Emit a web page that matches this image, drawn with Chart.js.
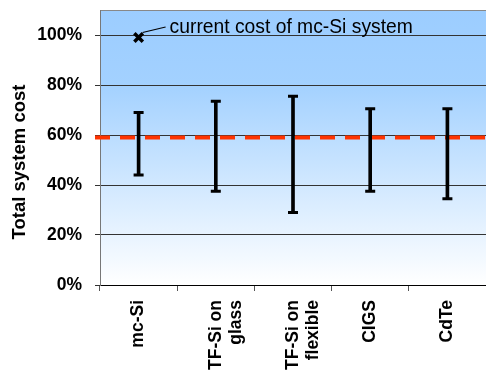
<!DOCTYPE html>
<html>
<head>
<meta charset="utf-8">
<script src="https://cdn.jsdelivr.net/npm/chart.js@4.4.0/dist/chart.umd.min.js"></script>
<style>
html, body { margin: 0; padding: 0; background: #fff; }
#wrap { width: 486px; height: 379px; }
</style>
</head>
<body>
<div id="wrap"><canvas id="costChart" width="486" height="379"></canvas></div>
<script>
// data (% of current mc-Si system cost)
const technologies = ['mc-Si', ['TF-Si on', 'glass'], ['TF-Si on', 'flexible'], 'CIGS', 'CdTe'];
const costLow = [44, 37.5, 29, 37.5, 34.5];
const costHigh = [69, 73.5, 75.5, 70.5, 70.5];
const currentCost = [99, null, null, null, null];
const averageCost = 59;
const yTicks = [0, 20, 40, 60, 80, 100];
const yTitle = 'Total system cost';
const noteText = 'current cost of mc-Si system';

const FONT = '"Liberation Sans", Arial, sans-serif';

const decorations = {
    id: 'decorations',
    beforeDraw(chart) {
        const { ctx, chartArea: a } = chart;
        const g = ctx.createLinearGradient(0, a.top, 0, a.bottom);
        g.addColorStop(0, '#9ccdff');
        g.addColorStop(0.27, '#a3d1ff');
        g.addColorStop(1, '#ffffff');
        ctx.save();
        ctx.fillStyle = g;
        ctx.fillRect(a.left, a.top, a.right - a.left, a.bottom - a.top);
        ctx.strokeStyle = '#888';
        ctx.lineWidth = 1;
        ctx.beginPath();
        ctx.moveTo(a.left, a.top + 0.5);
        ctx.lineTo(a.right, a.top + 0.5);
        ctx.stroke();
        ctx.restore();
    },
    beforeDatasetsDraw(chart) {
        const { ctx, chartArea: a, scales } = chart;
        const y = scales.y.getPixelForValue(averageCost);
        ctx.save();
        ctx.strokeStyle = '#ff3300';
        ctx.lineWidth = 4;
        ctx.setLineDash([15, 10]);
        ctx.beginPath();
        ctx.moveTo(a.left - 5, y);
        ctx.lineTo(a.right, y);
        ctx.stroke();
        ctx.restore();
    },
    afterDatasetsDraw(chart) {
        const { ctx, scales } = chart;
        ctx.save();
        ctx.fillStyle = '#000';
        technologies.forEach((t, i) => {
            const x = scales.x.getPixelForValue(i);
            [costLow[i], costHigh[i]].forEach(v => {
                const y = scales.y.getPixelForValue(v);
                ctx.fillRect(x - 5, y - 1.5, 10, 3);
            });
        });
        // note next to the current-cost marker
        const mx = scales.x.getPixelForValue(0) - 4;
        const my = scales.y.getPixelForValue(currentCost[0]);
        ctx.strokeStyle = '#000';
        ctx.lineWidth = 1.2;
        ctx.beginPath();
        ctx.moveTo(mx + 8, my - 5);
        ctx.lineTo(mx + 31, my - 10.5);
        ctx.stroke();
        ctx.font = '19.3px ' + FONT;
        ctx.textBaseline = 'middle';
        ctx.fillText(noteText, mx + 35, my - 10);
        ctx.restore();
    },
    afterDraw(chart) {
        const { ctx } = chart;
        ctx.save();
        ctx.translate(20, 162);
        ctx.rotate(-Math.PI / 2);
        ctx.font = 'bold 18.5px ' + FONT;
        ctx.textAlign = 'center';
        ctx.textBaseline = 'middle';
        ctx.fillStyle = '#000';
        ctx.fillText(yTitle, 0, 0);
        ctx.restore();
    }
};

new Chart(document.getElementById('costChart'), {
    data: {
        labels: technologies,
        datasets: [
            {
                type: 'bar',
                data: costLow.map((lo, i) => [lo, costHigh[i]]),
                backgroundColor: '#000',
                barThickness: 3,
                order: 2
            },
            {
                type: 'line',
                data: currentCost,
                showLine: false,
                pointStyle: 'crossRot',
                pointRadius: 6,
                borderColor: '#000',
                borderWidth: 3.5,
                order: 1
            }
        ]
    },
    options: {
        responsive: false,
        animation: false,
        layout: { autoPadding: false, padding: { top: 10, right: 0, left: 0, bottom: 0 } },
        plugins: { legend: { display: false }, tooltip: { enabled: false } },
        scales: {
            x: {
                offset: true,
                grid: { offset: true, drawOnChartArea: false, tickLength: 6, color: '#555' },
                border: { color: '#000', width: 1 },
                ticks: {
                    autoSkip: false,
                    minRotation: 90,
                    maxRotation: 90,
                    padding: 9,
                    color: '#000',
                    font: { family: FONT, size: 17.5, weight: 'bold', lineHeight: 1.15 }
                },
                afterFit(s) {
                    s.height = 94;
                    s.paddingLeft = 0;
                    s.paddingRight = 0;
                }
            },
            y: {
                min: 0,
                max: 110,
                afterBuildTicks(s) { s.ticks = yTicks.map(v => ({ value: v })); },
                grid: { color: '#333', tickLength: 5 },
                border: { color: '#777', width: 1 },
                ticks: {
                    padding: 13,
                    color: '#000',
                    font: { family: FONT, size: 17.5, weight: 'bold' },
                    callback: v => v + '%'
                },
                afterFit(s) {
                    s.width = 100;
                    s.paddingTop = 0;
                    s.paddingBottom = 0;
                }
            }
        }
    },
    plugins: [decorations]
});
</script>
</body>
</html>
